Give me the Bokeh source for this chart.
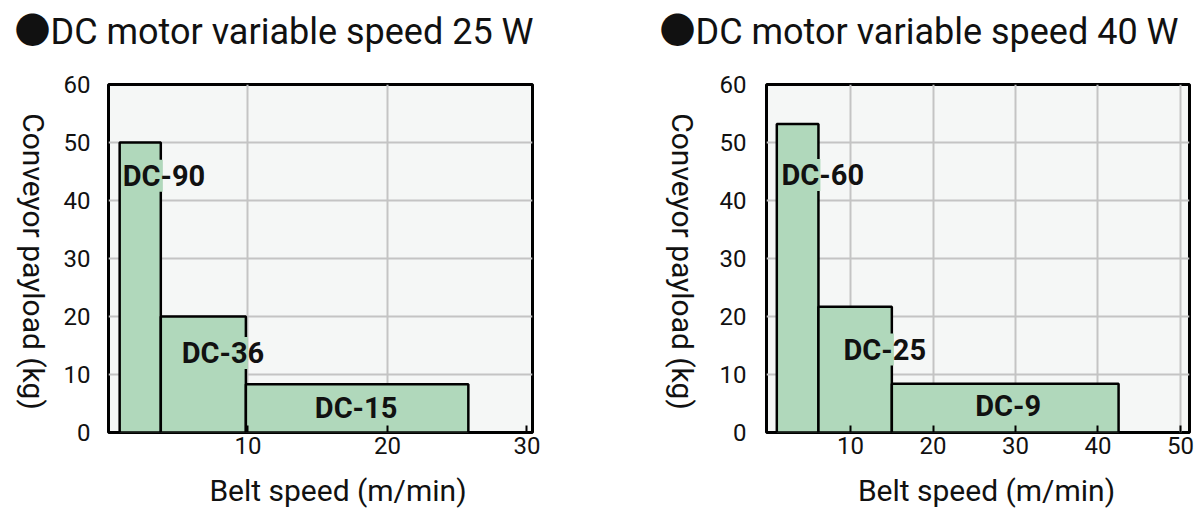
import math
from bokeh.plotting import figure
from bokeh.models import Range1d, FixedTicker, Label
from bokeh.layouts import row, column
from bokeh.embed import file_html
from bokeh.resources import INLINE

# ---------------- data ----------------
titles = ["●DC motor variable speed 25 W", "●DC motor variable speed 40 W"]
x_label = "Belt speed (m/min)"
y_label = "Conveyor payload (kg)"

models_25w = ["DC-90", "DC-36", "DC-15"]
speed_from_25w = [0.8, 3.75, 9.85]
speed_to_25w = [3.75, 9.85, 25.8]
payload_25w = [50, 20, 8.3]

models_40w = ["DC-60", "DC-25", "DC-9"]
speed_from_40w = [1.05, 6.1, 15.0]
speed_to_40w = [6.1, 15.0, 42.5]
payload_40w = [53.2, 21.7, 8.4]

x_ticks_25w = [10, 20, 30]
x_ticks_40w = [10, 20, 30, 40, 50]
y_ticks = [0, 10, 20, 30, 40, 50, 60]

# ---------------- styling / placement ----------------
FONT = "Roboto"
TITLE_FONT = "Roboto, 'Noto Sans CJK JP'"
INK = "#111111"
BG = "#f5f7f6"
BAR = "#b0d8bb"
GRID = "#c4c4c4"
FRAME_H = 348
TOP = 16
BOT = 40
HEADER_H = 68
FOOTER_H = 42
CHART_H = TOP + FRAME_H + BOT

# horizontal layout (page pixels)
H1_W = 60                 # y-label strip, left chart
P1_L, P1_FW, P1_R = 48, 424, 20
H2_W = 160                # y-label strip, right chart
P2_L, P2_FW, P2_R = 54, 423, 8
TOTAL_W = H1_W + P1_L + P1_FW + P1_R + H2_W + P2_L + P2_FW + P2_R


def blank(width, height):
    """A figure used only as a text strip; its data units are pixels."""
    f = figure(width=width, height=height, frame_width=width, frame_height=height,
               min_border=0, x_range=Range1d(0, width), y_range=Range1d(height, 0),
               x_axis_type=None, y_axis_type=None,
               output_backend="svg", toolbar_location=None,
               background_fill_color="white", border_fill_color="white")
    f.outline_line_color = None
    return f


def make_chart(models, x0, x1, h, x_ticks, xr, fw, mb_left, mb_right,
               lab_x, lab_y, lab_align, y_standoff):
    p = figure(width=mb_left + fw + mb_right, height=CHART_H,
               frame_width=fw, frame_height=FRAME_H,
               min_border_left=mb_left, min_border_right=mb_right,
               min_border_top=TOP, min_border_bottom=BOT,
               x_range=Range1d(*xr), y_range=Range1d(0, 60),
               output_backend="svg", toolbar_location=None,
               background_fill_color=BG, border_fill_color="white")
    p.outline_line_color = "black"
    p.outline_line_width = 3
    p.outline_line_alpha = 1

    p.quad(left=x0, right=x1, bottom=0, top=h, fill_color=BAR,
           line_color="black", line_width=2.5)

    # the labels sit on a patch of bar colour that hides the bar edge they cross
    px_x = (xr[1] - xr[0]) / fw
    px_y = 60 / FRAME_H
    ml, mr, mb, mt = [], [], [], []
    for i, al in enumerate(lab_align):
        if al == "left":
            ml.append(lab_x[i])
            mr.append(x1[i] + 2 * px_x)
            mb.append(lab_y[i] - 16 * px_y)
            mt.append(lab_y[i] + 16 * px_y)
    p.quad(left=ml, right=mr, bottom=mb, top=mt, fill_color=BAR, line_color=None)

    p.xaxis.ticker = FixedTicker(ticks=x_ticks)
    p.yaxis.ticker = FixedTicker(ticks=y_ticks)
    p.xgrid.ticker = FixedTicker(ticks=[t for t in x_ticks if t < xr[1] - 1])
    p.ygrid.ticker = FixedTicker(ticks=[10, 20, 30, 40, 50])
    for g in (p.xgrid, p.ygrid):
        g.grid_line_color = GRID
        g.grid_line_width = 2
    for ax in (p.xaxis, p.yaxis):
        ax.axis_line_color = None
        ax.minor_tick_line_color = None
        ax.major_label_text_font = FONT
        ax.major_label_text_font_size = "24px"
        ax.major_label_text_color = INK
    p.xaxis.major_tick_in = 7
    p.xaxis.major_tick_out = 0
    p.xaxis.major_tick_line_color = "black"
    p.xaxis.major_tick_line_width = 2
    p.xaxis.major_label_standoff = 4
    p.yaxis.major_tick_line_color = None
    p.yaxis.major_label_standoff = y_standoff

    for m, lx, ly, al in zip(models, lab_x, lab_y, lab_align):
        p.add_layout(Label(x=lx, y=ly, text=m, text_font=FONT,
                           text_font_style="bold", text_font_size="29px",
                           text_color=INK, text_align=al,
                           text_baseline="middle"))
    return p


# header with the two titles
header = blank(TOTAL_W, HEADER_H)
for t, tx in zip(titles, [14, 659]):
    header.add_layout(Label(x=tx, y=31, text=t, text_font=TITLE_FONT,
                            text_font_size="36px", text_color=INK,
                            text_align="left", text_baseline="middle"))

# y-axis label strips (text reads top to bottom)
YLAB_Y = 177
ylab1 = blank(H1_W, CHART_H)
ylab1.add_layout(Label(x=33, y=YLAB_Y, text=y_label, text_font=FONT,
                       text_font_size="30px", text_color=INK, angle=-math.pi / 2,
                       text_align="center", text_baseline="middle"))
ylab2 = blank(H2_W, CHART_H)
ylab2.add_layout(Label(x=129.5, y=YLAB_Y, text=y_label, text_font=FONT,
                       text_font_size="30px", text_color=INK, angle=-math.pi / 2,
                       text_align="center", text_baseline="middle"))

p1 = make_chart(models_25w, speed_from_25w, speed_to_25w, payload_25w,
                x_ticks_25w, (0, 30.4), P1_FW, P1_L, P1_R,
                [1.02, 5.25, 17.75], [44.25, 13.7, 4.25], ["left", "left", "center"], 12)
p2 = make_chart(models_40w, speed_from_40w, speed_to_40w, payload_40w,
                x_ticks_40w, (-0.2, 51.1), P2_FW, P2_L, P2_R,
                [1.62, 9.14, 29.1], [44.4, 14.3, 4.5], ["left", "left", "center"], 14)

# footer with the x-axis labels
footer = blank(TOTAL_W, FOOTER_H)
for cx in [337.5, 986]:
    footer.add_layout(Label(x=cx, y=17.5, text=x_label, text_font=FONT,
                            text_font_size="30px", text_color=INK,
                            text_align="center", text_baseline="middle"))

layout = column(header, row(ylab1, p1, ylab2, p2), footer)
open("out.html", "w").write(file_html(layout, INLINE))
